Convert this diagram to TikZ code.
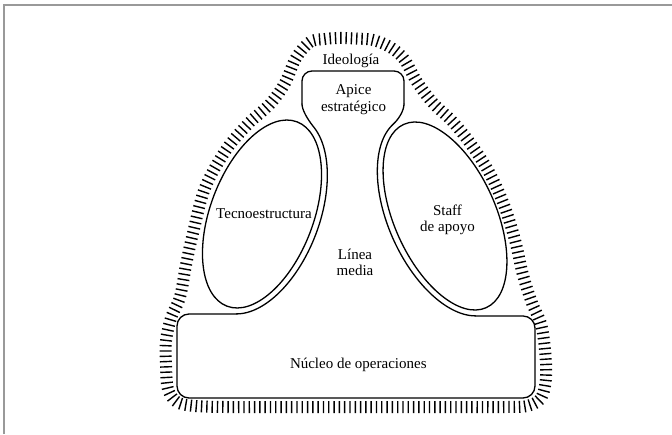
\documentclass[tikz,border=0pt]{standalone}
\usepackage{fontspec}
\setmainfont{Liberation Serif}
\usetikzlibrary{decorations.pathreplacing}
\begin{document}
\begin{tikzpicture}[x=1pt,y=-1pt,
  outline/.style={line width=1.3pt, line cap=round, line join=round},
  hatchline/.style={line width=1.4pt, decorate, decoration={ticks, segment length=5.3pt, amplitude=6pt}},
  lbl/.style={font=\fontsize{15}{16}\selectfont, align=center, inner sep=0pt, anchor=base},
  frameline/.style={draw=black!40, line width=1.5pt}]
\useasboundingbox (0,0) rectangle (672,434);
\fill[white] (0,0) rectangle (672,434);
\draw[frameline] (4,434) -- (4,5) -- (672,5);

% ideology hatch band
\draw[hatchline] plot[smooth cycle, tension=0.55] coordinates {
  (310,42) (325,39) (340,38) (356,38.5) (373,40) (390,47) (404,59) (417,82)
  (433,103) (452,121) (470,143) (489,172) (504,205) (515,240) (523,275)
  (532,303) (541,324) (545,350) (546,378) (541,398) (527,406) (505,407)
  (470,407) (435,407) (400,407) (365,407) (330,407) (295,407) (260,407)
  (225,407) (195,406) (177,402) (168,389) (166,365) (166,341) (171,318)
  (180,297) (186,265) (193,233) (205,188) (226,150) (248,124) (270,104)
  (285,83) (296,58)};

% ellipses
\draw[outline, rotate around={-20.8:(262,214)}] (262,214) ellipse [x radius=51.5, y radius=98.6];
\draw[outline, rotate around={24.2:(445,216)}] (445,216) ellipse [x radius=50.7, y radius=100.5];

% apex box
\draw[outline, rounded corners=10pt] (302,104) -- (302,71) -- (404,71) -- (404,104);
% left side of middle line
\draw[outline] (302,104) .. controls (302,109.5) and (306.8,118.4) .. (313.93,127.31)
  -- plot[domain=18:168.2, samples=80, variable=\t]
  ({262+37.14*cos(\t)+53.75*sin(\t)},{214-97.78*cos(\t)+20.42*sin(\t)});
% right side of middle line
\draw[outline] (404,104) .. controls (404,110) and (399.6,118.3) .. (393.03,124.37)
  -- plot[domain=10:166.55, samples=80, variable=\s]
  ({445-43.65*cos(\s)-51.72*sin(\s)},{216-97.14*cos(\s)+23.24*sin(\s)});
% operating core
\draw[outline, rounded corners=12pt] (236.6,313.9) -- (177,314) -- (177,398) -- (535,398) -- (535,316) -- (475.4,315.9);

% labels (anchor base = baseline of the last line)
\node[lbl] (ideo) at (351,64) {Ideología};
\node[lbl, font=\fontsize{15}{17}\selectfont] (apice) at (353.5,111.5) {Apice\\estratégico};
\node[lbl] (tecno) at (264,218.5) {Tecnoestructura};
\node[lbl, font=\fontsize{15}{15.5}\selectfont] (staff) at (447.5,231) {Staff\\de apoyo};
\node[lbl] (linea) at (355,275) {Línea\\media};
\node[lbl] (nucleo) at (358.3,368.5) {Núcleo de operaciones};
\end{tikzpicture}
\end{document}
